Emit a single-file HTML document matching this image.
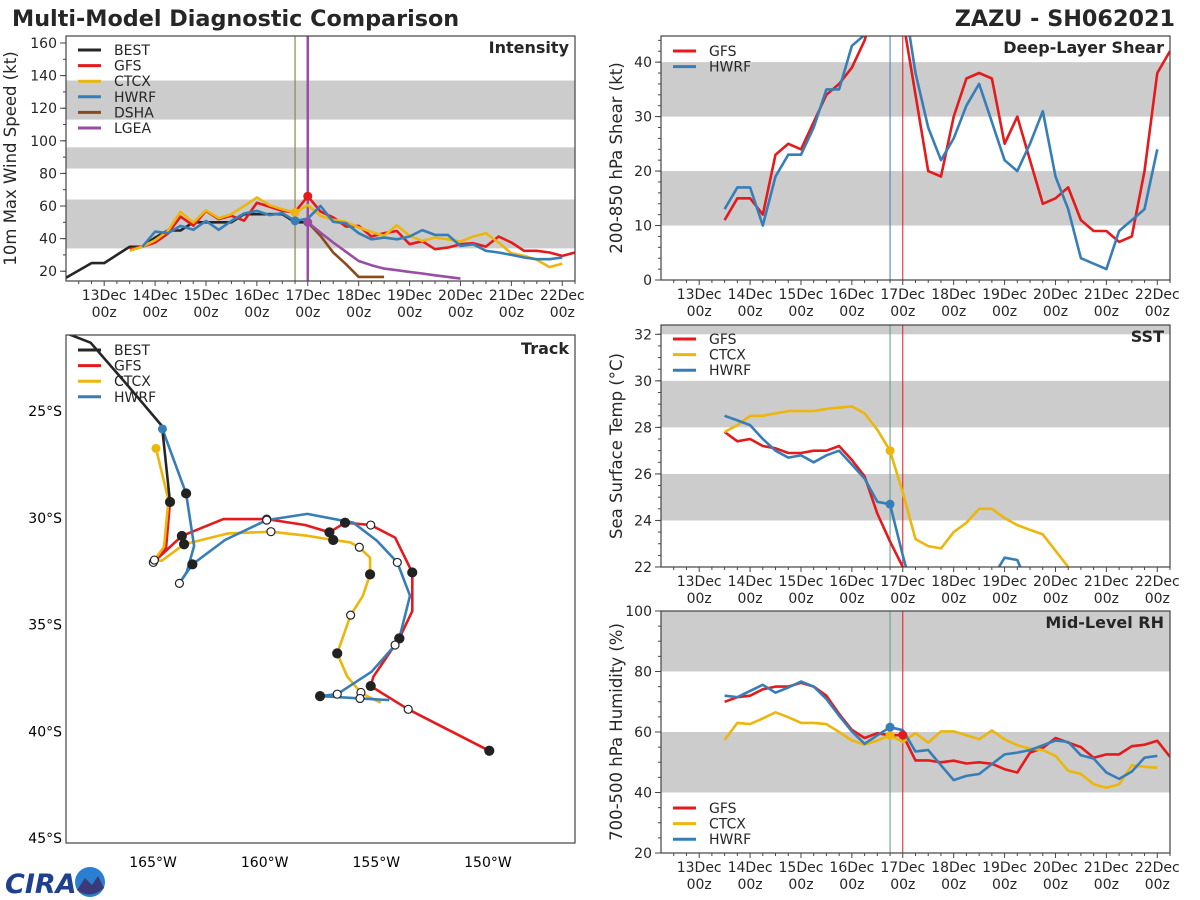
<!DOCTYPE html>
<html><head><meta charset="utf-8">
<style>
html,body{margin:0;padding:0;background:#fff;}
svg{display:block;font-family:"DejaVu Sans","Liberation Sans",sans-serif;}
</style></head>
<body>
<svg id="fig" width="1200" height="900" viewBox="0 0 1200 900" xmlns="http://www.w3.org/2000/svg">
<text x="12" y="26" font-size="22.3" font-weight="bold" fill="#262626">Multi-Model Diagnostic Comparison</text>
<text x="1175" y="26" font-size="22.3" font-weight="bold" fill="#262626" text-anchor="end">ZAZU - SH062021</text>
<g>
<text x="5" y="893" font-size="27" font-weight="bold" fill="#1f3f8f" font-style="italic">CIRA</text>
<circle cx="90" cy="882" r="15" fill="#2a7fd0"/>
<path d="M77,890 L85,878 L92,885 L98,876 L104,888 Q90,900 77,890Z" fill="#3a3a7a"/>
</g>
<g id="plots"></g>
</svg>
<script>
// ---------- DATA ----------
// Intensity
const bestT = [12.25,12.75,13.0,13.25,13.5,13.75,14.0,14.25,14.5,14.75,15.0,15.25,15.5,15.75,16.0,16.25,16.5,16.75,17.0];
const bestV = [16,25,25,30,35,35,40.6,45,45,50,50,50,50,55,55,55,55,50,50];
const gfsIntT0 = 13.5;
const gfsIntV = [33.5,35,37.6,43,53.5,48,57,52,54,51,62,59.5,57,56.4,66,56.6,53,47.4,47.8,41.3,43.3,44.7,36.6,38.4,33.5,34.5,36.6,37.2,35.1,41.3,37.6,32.5,32.5,31.5,29.4,31.5];
const ctcxIntT0 = 13.5;
const ctcxIntV = [32.5,35,39,44.7,56.4,49.9,57.4,52.5,55,60,65.2,60.5,58,56,60.5,54,51.5,50.3,46.8,44.1,41.7,48.2,41.7,38.6,40.6,39.6,38.2,41.3,43.3,37.6,31,29.4,27,22.5,24.7];
const hwrfIntT0 = 13.75;
const hwrfIntV = [35,44.3,43.3,47.8,45.4,50.9,45.4,50.9,55.4,57,54.4,55.6,50.9,52.3,60.1,50.3,49.4,43.3,39.6,40.6,39.6,41.3,45.2,42.3,42.3,35.5,36.6,32.5,31.5,30,28.4,27.4,27.4,28.4];
const dshaT0 = 17.0;
const dshaV = [50,41.7,31.5,24.3,16.5,16.5,16.5];
const lgeaT0 = 17.0;
const lgeaV = [50,43.7,37.6,31.9,26.3,23.7,21.6,20.6,19.6,18.6,17.5,16.5,15.5];
// Shear
const gfsShearT0 = 13.5;
const gfsShearV = [11,15,15,12,23,25,24,29,34,36,39,44,52,55,48,34,20,19,30,37,38,37,25,30,22,14,15,17,11,9,9,7,8,20,38,42];
const hwrfShearT0 = 13.5;
const hwrfShearV = [13,17,17,10,19,23,23,28,35,35,43,45,50,54,53,38,28,22,26,32,36,29,22,20,25,31,19,13,4,3,2,9,11,13,24];
// SST
const gfsSstT0 = 13.5;
const gfsSstV = [27.8,27.4,27.5,27.2,27.1,26.9,26.9,27.0,27.0,27.2,26.6,25.9,24.3,23.1,22.0,20.5];
const ctcxSstT0 = 13.5;
const ctcxSstV = [27.8,28.1,28.5,28.5,28.6,28.7,28.7,28.7,28.8,28.85,28.9,28.6,27.9,27.0,25.2,23.2,22.9,22.8,23.5,23.9,24.5,24.5,24.1,23.8,23.6,23.4,22.7,22.0,21.0];
const hwrfSstT0 = 13.5;
const hwrfSstV = [28.5,28.3,28.1,27.5,27.0,26.7,26.8,26.5,26.8,27.0,26.4,25.8,24.8,24.7,22.5,20.5,20,20,20,20,20,21.5,22.4,22.3,21.0];
// RH
const gfsRhT0 = 13.5;
const gfsRhV = [70,71.5,72,74.1,75,75,76.3,75,72,66,60.7,58,59.6,58.9,59,50.6,50.6,50,50.5,49.6,50,49.5,47.7,46.6,53.2,54.7,58,56.5,55,51.5,52.6,52.6,55.3,55.8,57.1,51.8];
const ctcxRhT0 = 13.5;
const ctcxRhV = [57.4,63,62.6,64.5,66.5,64.9,63,63,62.6,60,57.2,55.8,57.2,58.9,56.7,59.6,56.5,60.2,60.2,58.9,57.6,60.5,57.6,55.6,54.5,54,52.1,47.2,46.1,42.7,41.6,42.7,49,48.5,48.2];
const hwrfRhT0 = 13.5;
const hwrfRhV = [72,71.5,73.6,75.6,73,74.7,76.7,75,70.9,65.4,60.2,56.1,58.9,61.6,60.6,53.6,54,49,44.1,45.5,46.1,49.4,52.6,53.2,54,55.6,57.2,56.7,52.3,51.2,46.6,44.5,46.9,51.5,52.1];
// Track (lon, lat)
const bestLon = [-168.9,-167.8,-166.3,-164.6,-164.24];
const bestLat = [-21.35,-21.8,-23.6,-25.7,-29.26];
const gfsLon = [-164.24,-164.42,-164.99,-163.71,-161.85,-159.91,-158.19,-157.10,-156.40,-155.25,-154.16,-153.39,-153.39,-153.97,-155.13,-155.25,-153.57,-149.94];
const gfsLat = [-29.26,-31.43,-32.09,-30.85,-30.06,-30.06,-30.34,-30.68,-30.23,-30.34,-30.93,-32.56,-34.37,-35.65,-37.44,-37.88,-38.97,-40.91];
const gfsMarks = {0:'f',2:'o',3:'f',5:'o',7:'f',8:'f',9:'o',11:'f',13:'f',15:'f',16:'o',17:'f'};
const ctcxLon = [-164.87,-164.31,-164.51,-164.94,-164.61,-163.61,-161.63,-159.72,-158.12,-156.93,-156.18,-155.76,-155.28,-155.28,-155.61,-156.15,-156.75,-156.30,-155.69,-155.36,-154.80];
const ctcxLat = [-26.75,-29.17,-31.36,-31.98,-32.01,-31.24,-30.73,-30.65,-30.84,-31.04,-31.15,-31.38,-31.87,-32.65,-33.67,-34.56,-36.35,-37.44,-38.18,-38.38,-38.66];
const ctcxMarks = {3:'o',5:'f',7:'o',9:'f',11:'o',13:'f',15:'o',16:'f',18:'o'};
const hwrfLon = [-164.58,-163.52,-163.16,-163.49,-163.82,-163.24,-161.78,-159.91,-158.09,-156.03,-154.98,-154.06,-153.49,-153.97,-154.16,-155.21,-156.75,-157.52,-155.73,-154.42];
const hwrfLat = [-25.84,-28.86,-31.32,-32.54,-33.07,-32.18,-31.04,-30.11,-29.82,-30.23,-31.07,-32.09,-33.65,-35.65,-35.96,-37.21,-38.26,-38.35,-38.46,-38.54];
const hwrfMarks = {1:'f',4:'o',5:'f',7:'o',11:'o',13:'f',14:'o',16:'o',17:'f',18:'o'};
const dayTicks = [13,14,15,16,17,18,19,20,21,22];
const lonTicks = [-165,-160,-155,-150];
const latTicks = [-25,-30,-35,-40,-45];

const C = {BEST:'#262626',GFS:'#e41a1c',CTCX:'#ecb60c',HWRF:'#377eb8',DSHA:'#8b4a1e',LGEA:'#984ea3'};
const NS='http://www.w3.org/2000/svg';
const root=document.getElementById('plots');
function el(tag,attrs,parent){const e=document.createElementNS(NS,tag);for(const k in attrs)e.setAttribute(k,attrs[k]);(parent||root).appendChild(e);return e;}
function series(t0,vals){return vals.map((v,i)=>[t0+i*0.25,v]);}
let clipId=0;

function panel(P){
  const g=el('g',{});
  
  
  const xs=d=>P.x0+(d-12.25)/10*(P.x1-P.x0);
  const ys=v=>P.y1-(v-P.ymin)/(P.ymax-P.ymin)*(P.y1-P.y0);
  P.bands.forEach(b=>{
    const r=el('rect',{x:P.x0,y:ys(Math.min(b[1],P.ymax)),width:P.x1-P.x0,height:ys(b[0])-ys(Math.min(b[1],P.ymax)),fill:'#cccccc'},g);
    
    
  });
  const cid='c'+(clipId++);
  const cp=el('clipPath',{id:cid},g);el('rect',{x:P.x0,y:P.y0,width:P.x1-P.x0,height:P.y1-P.y0},cp);
  const lg=el('g',{'clip-path':'url(#'+cid+')'},g);
  P.vlines.forEach(v=>{
    const l=el('line',{x1:xs(v[0]),x2:xs(v[0]),y1:P.y0,y2:P.y1,stroke:v[1],'stroke-width':v[2]},lg);
    
    
  });
  P.series.forEach(s=>{
    const p=el('polyline',{points:s.pts.map(q=>xs(q[0]).toFixed(1)+','+ys(q[1]).toFixed(1)).join(' '),fill:'none',stroke:C[s.k],'stroke-width':2.6,'stroke-linejoin':'round'},lg);
    
    
  });
  P.dots.forEach(d=>{
    const c=el('circle',{cx:xs(d[1]),cy:ys(d[2]),r:4.5,fill:C[d[0]]},lg);
    
    
  });
  const fr=el('rect',{x:P.x0,y:P.y0,width:P.x1-P.x0,height:P.y1-P.y0,fill:'none',stroke:'#444','stroke-width':1.2},g);
  
  
  for(let d=12.5;d<=22.25;d+=0.25){const x=xs(d);const major=Math.abs(d-Math.round(d))<1e-6;
    el('line',{x1:x,x2:x,y1:P.y1,y2:P.y1+(major?5:3),stroke:'#444','stroke-width':1},g);}
  dayTicks.forEach(d=>{
    const t=el('text',{x:xs(d),y:P.y1+19,'font-size':14,'text-anchor':'middle',fill:'#262626'},g);
    t.textContent=d+'Dec';
    
    
    const t2=el('text',{x:xs(d),y:P.y1+36,'font-size':14,'text-anchor':'middle',fill:'#262626'},g);
    t2.textContent='00z';
    
    
  });
  for(let v=P.ymin0;v<=P.ymax+1e-6;v+=P.minor){const y=ys(v);if(y<P.y0-0.5)continue;
    el('line',{x1:P.x0-3,x2:P.x0,y1:y,y2:y,stroke:'#444','stroke-width':1},g);}
  P.yt.forEach(v=>{const y=ys(v);
    el('line',{x1:P.x0-6,x2:P.x0,y1:y,y2:y,stroke:'#444','stroke-width':1},g);
    const t=el('text',{x:P.x0-9,y:y+5,'font-size':14,'text-anchor':'end',fill:'#262626'},g);
    t.textContent=v;
    
    
  });
  const yt=el('text',{x:0,y:0,'font-size':16.5,'text-anchor':'middle',fill:'#262626',transform:'translate('+P.ytx+','+((P.y0+P.y1)/2)+') rotate(-90)'},g);
  yt.textContent=P.ytitle;
  
  
  const ti=el('text',{x:P.x1-6,y:P.y0+17,'font-size':16,'font-weight':'bold','text-anchor':'end',fill:'#262626'},g);
  ti.textContent=P.title;
  
  
  legend(g,P.x0+12,P.legY,P.legend);
}
function legend(g,x,y,keys){
  keys.forEach((k,i)=>{
    const yy=y+i*15.6;
    const e=el('g',{},g);
    
    
    el('line',{x1:x,x2:x+23,y1:yy,y2:yy,stroke:C[k],'stroke-width':3},e);
    const t=el('text',{x:x+36,y:yy+5,'font-size':14,fill:'#262626'},e);
    t.textContent=k;
  });
}

panel({name:'intensity',x0:66,x1:575,y0:36,y1:281,ymin:14,ymax:164.3,ymin0:20,minor:10,yt:[20,40,60,80,100,120,140,160],
  bands:[[34,64],[83,96],[113,137]],vlines:[[16.75,'#8a8a4a',1.2],[17.0,C.LGEA,2.5]],
  series:[{k:'BEST',pts:bestT.map((t,i)=>[t,bestV[i]])},{k:'GFS',pts:series(gfsIntT0,gfsIntV)},{k:'CTCX',pts:series(ctcxIntT0,ctcxIntV)},{k:'HWRF',pts:series(hwrfIntT0,hwrfIntV)},{k:'DSHA',pts:series(dshaT0,dshaV)},{k:'LGEA',pts:series(lgeaT0,lgeaV)}],
  dots:[['GFS',17.0,gfsIntV[14]],['CTCX',16.75,ctcxIntV[13]],['HWRF',16.75,hwrfIntV[12]],['LGEA',17.0,lgeaV[0]]],
  ytitle:'10m Max Wind Speed (kt)',ytx:16,title:'Intensity',legY:50,legend:['BEST','GFS','CTCX','HWRF','DSHA','LGEA']});
panel({name:'shear',x0:661,x1:1170,y0:36,y1:280,ymin:0,ymax:44.8,ymin0:0,minor:2,yt:[0,10,20,30,40],
  bands:[[10,20],[30,40]],vlines:[[16.75,C.HWRF,1],[17.0,C.GFS,1]],
  series:[{k:'GFS',pts:series(gfsShearT0,gfsShearV)},{k:'HWRF',pts:series(hwrfShearT0,hwrfShearV)}],dots:[],
  ytitle:'200-850 hPa Shear (kt)',ytx:622,title:'Deep-Layer Shear',legY:51,legend:['GFS','HWRF']});
panel({name:'sst',x0:661,x1:1170,y0:325,y1:567,ymin:22,ymax:32.4,ymin0:22,minor:0.5,yt:[22,24,26,28,30,32],
  bands:[[24,26],[28,30],[32,33]],vlines:[[16.75,'#5a9a8a',1],[17.0,C.GFS,1]],
  series:[{k:'GFS',pts:series(gfsSstT0,gfsSstV)},{k:'CTCX',pts:series(ctcxSstT0,ctcxSstV)},{k:'HWRF',pts:series(hwrfSstT0,hwrfSstV)}],
  dots:[['CTCX',16.75,ctcxSstV[13]],['HWRF',16.75,hwrfSstV[13]]],
  ytitle:'Sea Surface Temp (°C)',ytx:622,title:'SST',legY:339,legend:['GFS','CTCX','HWRF']});
panel({name:'rh',x0:661,x1:1170,y0:611,y1:853,ymin:20,ymax:100,ymin0:20,minor:5,yt:[20,40,60,80,100],
  bands:[[40,60],[80,100]],vlines:[[16.75,'#5a9a8a',1],[17.0,C.GFS,1]],
  series:[{k:'GFS',pts:series(gfsRhT0,gfsRhV)},{k:'CTCX',pts:series(ctcxRhT0,ctcxRhV)},{k:'HWRF',pts:series(hwrfRhT0,hwrfRhV)}],
  dots:[['CTCX',16.75,ctcxRhV[13]],['HWRF',16.75,hwrfRhV[13]],['GFS',17.0,gfsRhV[14]]],
  ytitle:'700-500 hPa Humidity (%)',ytx:622,title:'Mid-Level RH',legY:808,legend:['GFS','CTCX','HWRF']});

// Track panel
(function(){
  const T={x0:66,x1:575,y0:335,y1:843,lon0:-168.9,lon1:-146.1,lat0:-21.44,lat1:-45.23};
  const g=el('g',{});
  
  
  const xs=l=>T.x0+(l-T.lon0)/(T.lon1-T.lon0)*(T.x1-T.x0);
  const ys=l=>T.y0+(T.lat0-l)/(T.lat0-T.lat1)*(T.y1-T.y0);
  const cp=el('clipPath',{id:'trackclip'},g);el('rect',{x:T.x0,y:T.y0,width:T.x1-T.x0,height:T.y1-T.y0},cp);
  const lg=el('g',{'clip-path':'url(#trackclip)'},g);
  legend(g,T.x0+12,350,['BEST','GFS','CTCX','HWRF']);
  const tracks=[['GFS',gfsLon,gfsLat,gfsMarks],['CTCX',ctcxLon,ctcxLat,ctcxMarks],['HWRF',hwrfLon,hwrfLat,hwrfMarks],['BEST',bestLon,bestLat,{}]];
  tracks.forEach(tr=>{
    const p=el('polyline',{points:tr[1].map((l,i)=>xs(l).toFixed(1)+','+ys(tr[2][i]).toFixed(1)).join(' '),fill:'none',stroke:C[tr[0]],'stroke-width':2.6,'stroke-linejoin':'round'},lg);
    
    
  });
  [['CTCX',ctcxLon[0],ctcxLat[0]],['HWRF',hwrfLon[0],hwrfLat[0]]].forEach(s=>{
    const c=el('circle',{cx:xs(s[1]),cy:ys(s[2]),r:4.5,fill:C[s[0]]},lg);
    
    
  });
  tracks.forEach(tr=>{
    for(const k in tr[3]){const i=+k;
      const c=el('circle',{cx:xs(tr[1][i]),cy:ys(tr[2][i]),r:tr[3][k]==='f'?4.5:4,fill:tr[3][k]==='f'?'#222':'#fff',stroke:'#222','stroke-width':1.2},lg);
      
      
    }
  });
  const fr=el('rect',{x:T.x0,y:T.y0,width:T.x1-T.x0,height:T.y1-T.y0,fill:'none',stroke:'#444','stroke-width':1.2},g);
  
  
  lonTicks.forEach(l=>{
    const t=el('text',{x:xs(l),y:T.y1+24,'font-size':14,'text-anchor':'middle',fill:'#000'},g);
    t.textContent=(-l)+'°W';
    
    
  });
  latTicks.forEach(l=>{
    const t=el('text',{x:T.x0-4,y:ys(l)+5,'font-size':14,'text-anchor':'end',fill:'#000'},g);
    t.textContent=(-l)+'°S';
    
    
  });
  const ti=el('text',{x:T.x1-6,y:T.y0+19,'font-size':16,'font-weight':'bold','text-anchor':'end',fill:'#262626'},g);
  ti.textContent='Track';
  
  
})();
</script>
</body></html>
